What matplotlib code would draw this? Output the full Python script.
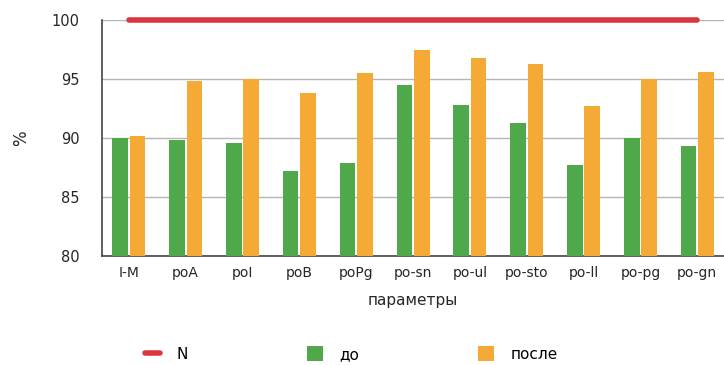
import matplotlib
matplotlib.use("Agg")
import matplotlib.pyplot as plt
import numpy as np

plt.rcParams.update({
    "font.family": ["DejaVu Sans"],
    "font.size": 10,
})

# ---- data ----
params = ["I-M", "poA", "poI", "poB", "poPg", "po-sn", "po-ul", "po-sto", "po-ll", "po-pg", "po-gn"]
before = [90.0, 89.8, 89.6, 87.2, 87.9, 94.5, 92.8, 91.3, 87.7, 90.0, 89.3]
after = [90.2, 94.8, 95.0, 93.8, 95.5, 97.5, 96.8, 96.3, 92.7, 95.0, 95.6]
norm = [100] * len(params)

GREEN, ORANGE, RED = "#4fa84a", "#f4aa35", "#d9363e"
INK, GRID = "#262626", "#b5b5b5"

fig = plt.figure(figsize=(7.24, 3.65), dpi=100)
ax = fig.add_axes([0.141, 0.299, 0.859, 0.646])

x = np.arange(len(params))
w = 0.275
ax.bar(x - w/2 - 0.015, before, w, color=GREEN, label="до", zorder=3)
ax.bar(x + w/2 + 0.015, after, w, color=ORANGE, label="после", zorder=3)
ax.plot(x, norm, color=RED, lw=4, solid_capstyle="round", label="N",
        zorder=4, clip_on=False)

ax.set_xlim(-0.47, 10.47)
ax.set_ylim(80, 100)
ax.set_yticks([80, 85, 90, 95, 100])
ax.set_xticks(x)
ax.set_xticklabels(params)
ax.yaxis.grid(True, color=GRID, lw=1, zorder=0)
ax.tick_params(length=0, colors=INK, labelsize=10)
ax.tick_params(axis="y", pad=16, labelsize=10.5)
ax.tick_params(axis="x", pad=7)
for s in ("top", "right"):
    ax.spines[s].set_visible(False)
for s in ("left", "bottom"):
    ax.spines[s].set_color("#444444")
    ax.spines[s].set_linewidth(1.2)

ax.set_ylabel("%", fontsize=12, color=INK, labelpad=16)
ax.set_xlabel("параметры", fontsize=11, color=INK, labelpad=10)

h, l = ax.get_legend_handles_labels()
keep = {lab: hd for hd, lab in zip(h, l)}
names = ["N", "до", "после"]
fig.legend([keep[n] for n in names], names, loc="center",
           bbox_to_anchor=(0.485, 0.03), ncol=3, frameon=False, fontsize=11,
           columnspacing=7.8, handlelength=1.0, handleheight=1.1, handletextpad=1.1)

fig.savefig("out.png", dpi=100, facecolor="white")
